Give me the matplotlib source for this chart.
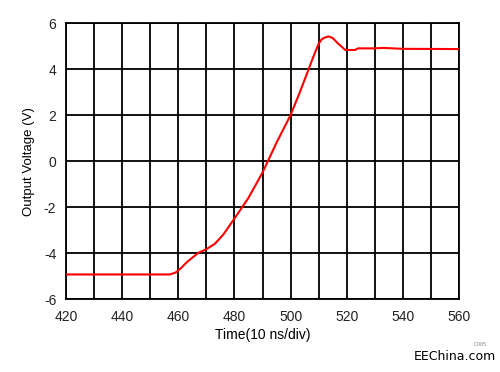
import matplotlib
matplotlib.use("Agg")
import matplotlib.pyplot as plt
import numpy as np

# Step response
time_ns = [420, 457, 459, 461, 463, 465, 467, 470, 473, 476, 480, 485, 490,
           495, 500, 503, 506, 508, 510, 511, 512, 513.5, 515, 517, 519.5, 523,
           524, 530, 533, 540, 560]
volts = [-4.93, -4.93, -4.85, -4.65, -4.4, -4.2, -4.0, -3.83, -3.6, -3.2, -2.5,
         -1.6, -0.5, 0.8, 2.0, 2.9, 3.85, 4.5, 5.1, 5.28, 5.36, 5.42, 5.35, 5.1,
         4.83, 4.83, 4.9, 4.9, 4.92, 4.88, 4.87]

x_ticks = [420, 440, 460, 480, 500, 520, 540, 560]
y_ticks = [-6, -4, -2, 0, 2, 4, 6]

plt.rcParams['font.family'] = ['Liberation Sans', 'DejaVu Sans']
plt.rcParams['axes.unicode_minus'] = False

fig = plt.figure(figsize=(5, 3.72), dpi=100)
ax = fig.add_axes([0.132, 0.196, 0.786, 0.742])

ax.plot(time_ns, volts, color='#ff0000', linewidth=1.5, zorder=3)

ax.set_xlim(420, 560)
ax.set_ylim(-6, 6)
ax.set_xticks(x_ticks)
ax.set_yticks(y_ticks)
ax.set_xticks(np.arange(420, 561, 10), minor=True)
ax.grid(True, which='both', color='black', linewidth=1.3)
ax.tick_params(which='both', length=0, labelsize=10, colors='#222222')
ax.tick_params(axis='x', pad=8)
ax.tick_params(axis='y', pad=7)
for s in ax.spines.values():
    s.set_linewidth(1.3)
    s.set_color('black')

ax.set_xlabel("Time(10 ns/div)", fontsize=10, labelpad=3)
ax.set_ylabel("Output Voltage (V)", fontsize=9.5, labelpad=6)

fig.text(0.974, 0.07, "C005", fontsize=4, color='#888888', ha='right')
fig.text(0.91, 0.033, "EEChina.com", fontsize=9, color='black', ha='center',
         family='DejaVu Sans')

plt.savefig("out.png", dpi=100)
